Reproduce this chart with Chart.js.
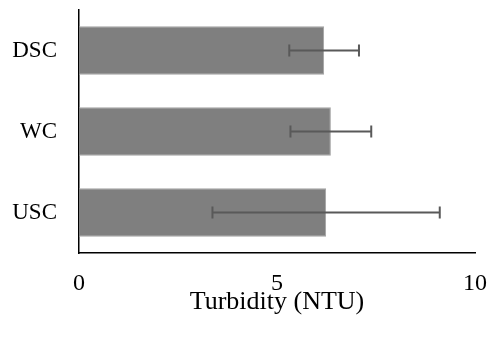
<!DOCTYPE html>
<html>
<head>
<meta charset="utf-8">
<script src="https://cdn.jsdelivr.net/npm/chart.js@4/dist/chart.umd.min.js"></script>
<style>
  html, body { margin: 0; padding: 0; background: #fff; }
  #wrap { width: 489px; height: 337px; }
</style>
</head>
<body>
<div id="wrap"><canvas id="chart" width="489" height="337"></canvas></div>
<script>
const sites = ["DSC", "WC", "USC"];
const turbidity = [6.19, 6.36, 6.24];
const turbidityErr = [0.88, 1.02, 2.87];
const xTicks = [0, 5, 10];

// error bars drawn through the x scale
const errorBars = {
  id: "errorBars",
  afterDatasetsDraw(chart) {
    const ctx = chart.ctx;
    const x = chart.scales.x;
    const meta = chart.getDatasetMeta(0);
    ctx.save();
    ctx.strokeStyle = "#595959";
    ctx.lineWidth = 2;
    meta.data.forEach((bar, i) => {
      const lo = x.getPixelForValue(turbidity[i] - turbidityErr[i]);
      const hi = x.getPixelForValue(turbidity[i] + turbidityErr[i]);
      const y = bar.y;
      ctx.beginPath();
      ctx.moveTo(lo, y); ctx.lineTo(hi, y);
      ctx.moveTo(lo, y - 6); ctx.lineTo(lo, y + 6);
      ctx.moveTo(hi, y - 6); ctx.lineTo(hi, y + 6);
      ctx.stroke();
    });
    ctx.restore();
  }
};

new Chart(document.getElementById("chart"), {
  type: "bar",
  data: {
    labels: sites,
    datasets: [{
      label: "Turbidity",
      data: turbidity,
      backgroundColor: "#7f7f7f",
      borderColor: "#a3a3a3",
      borderWidth: 1,
      barPercentage: 0.6,
      categoryPercentage: 1
    }]
  },
  options: {
    indexAxis: "y",
    responsive: false,
    animation: false,
    layout: { padding: { top: 10, right: 14, left: 0, bottom: 0 } },
    plugins: { legend: { display: false }, tooltip: { enabled: false } },
    scales: {
      x: {
        min: 0,
        max: 10,
        afterBuildTicks: axis => { axis.ticks = xTicks.map(v => ({ value: v })); },
        afterFit: axis => {
          axis.height = 84;
          axis.paddingLeft = 0;
          axis.paddingRight = 0;
        },
        grid: { display: false, drawTicks: false },
        border: { display: true, color: "#000", width: 1.5 },
        ticks: { color: "#000", padding: 16, maxRotation: 0, font: { family: "Liberation Serif", size: 24 } },
        title: {
          display: true,
          text: "Turbidity (NTU)",
          color: "#000",
          padding: { top: 0, bottom: 19 },
          font: { family: "Liberation Serif", size: 26 }
        }
      },
      y: {
        afterFit: axis => {
          axis.width = 79;
          axis.paddingTop = 0;
          axis.paddingBottom = 0;
        },
        grid: { display: false, drawTicks: false },
        border: { display: true, color: "#000", width: 1.5 },
        ticks: { color: "#000", padding: 22, font: { family: "Liberation Serif", size: 23 } }
      }
    }
  },
  plugins: [errorBars]
});
</script>
</body>
</html>
